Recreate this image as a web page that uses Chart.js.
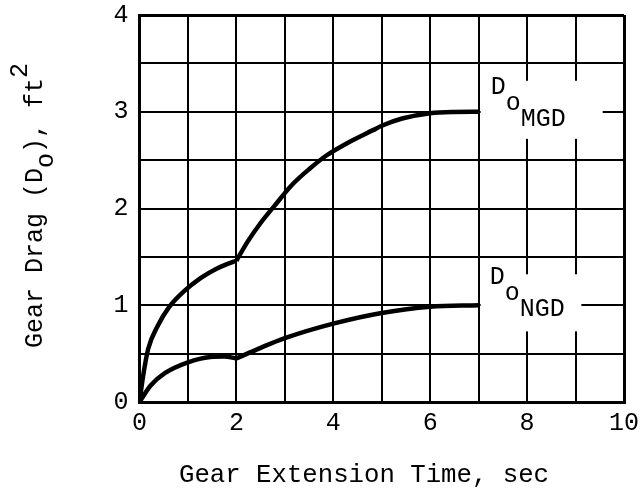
<!DOCTYPE html>
<html>
<head>
<meta charset="utf-8">
<script src="https://cdn.jsdelivr.net/npm/chart.js@4/dist/chart.umd.min.js"></script>
<style>
  html, body { margin: 0; padding: 0; background: #ffffff; }
  #wrap { width: 642px; height: 504px; }
</style>
</head>
<body>
<div id="wrap"><canvas id="c" width="642" height="504"></canvas></div>
<script>
// Gear extension time (s) and drag area (ft^2) for the main and nose gear
const mgdTime = [0, 0.075, 0.18, 0.38, 0.61, 0.91, 1.26, 1.60, 1.94, 2, 2.235, 2.5, 2.79, 3.16, 3.51, 3.85, 4.34, 4.82, 5.0, 5.42, 6.0, 6.5, 7];
const mgdDrag = [0, 0.27, 0.55, 0.79, 0.98, 1.14, 1.28, 1.38, 1.45, 1.46, 1.66, 1.85, 2.03, 2.25, 2.41, 2.545, 2.69, 2.81, 2.855, 2.93, 2.985, 2.998, 3.0];

const ngdTime = [0, 0.23, 0.53, 1.0, 1.46, 1.75, 2, 2.5, 3.0, 4.0, 5.0, 6.0, 7];
const ngdDrag = [0, 0.17, 0.30, 0.41, 0.465, 0.47, 0.45, 0.56, 0.66, 0.81, 0.92, 0.985, 1.0];

const xTicks = [0, 2, 4, 6, 8, 10];
const yTicks = [0, 1, 2, 3, 4];

// Both curves have a corner where the doors finish opening
const doorTime = 2;

const FONT = '"Liberation Mono", "DejaVu Sans Mono", monospace';

function splitAtCorner(times, values) {
  const before = [], after = [];
  times.forEach((t, i) => {
    const p = { x: t, y: values[i] };
    if (t <= doorTime) before.push(p);
    if (t >= doorTime) after.push(p);
  });
  return [before, after];
}

function curveDatasets(name, times, values) {
  return splitAtCorner(times, values).map((pts, k) => ({
    label: name + (k ? ' (after doors)' : ''),
    data: pts,
    borderColor: '#000',
    borderWidth: 4.5,
    pointRadius: 0,
    fill: false,
    cubicInterpolationMode: 'monotone',
    borderCapStyle: 'butt',
    borderJoinStyle: 'round'
  }));
}

// Curve names written at the right-hand end of each curve, on a white patch
const curveLabels = [
  { sub: 'MGD', box: [7, 9.56, 2.72, 3.32], at: [7.25, 3.18] },
  { sub: 'NGD', box: [7, 9.12, 0.73, 1.32], at: [7.23, 1.22] }
];

const labelPlugin = {
  id: 'curveLabels',
  beforeDatasetsDraw(chart) {
    const { ctx, scales: { x, y } } = chart;
    ctx.save();
    curveLabels.forEach(l => {
      const [x0, x1, y0, y1] = l.box;
      const left = x.getPixelForValue(x0) + 2;
      const right = x.getPixelForValue(x1);
      const top = y.getPixelForValue(y1);
      const bottom = y.getPixelForValue(y0);
      ctx.fillStyle = '#fff';
      ctx.fillRect(left, top, right - left, bottom - top);

      ctx.fillStyle = '#000';
      ctx.font = '25px ' + FONT;
      ctx.textAlign = 'left';
      ctx.textBaseline = 'alphabetic';
      const tx = x.getPixelForValue(l.at[0]);
      const ty = y.getPixelForValue(l.at[1]);
      const wD = ctx.measureText('D').width;
      const wo = ctx.measureText('o').width;
      ctx.fillText('D', tx, ty);
      ctx.fillText('o', tx + wD, ty + 16);
      ctx.fillText(l.sub, tx + wD + wo, ty + 32);
    });
    ctx.restore();
  },
  afterDraw(chart) {
    const { ctx } = chart;
    ctx.save();
    ctx.fillStyle = '#000';
    ctx.textBaseline = 'alphabetic';

    // x-axis title
    ctx.font = '25.7px ' + FONT;
    ctx.textAlign = 'center';
    ctx.fillText('Gear Extension Time, sec', 364, 482);

    // y-axis title, read bottom to top, with subscript and superscript
    ctx.font = '25px ' + FONT;
    ctx.translate(42, 348);
    ctx.rotate(-Math.PI / 2);
    ctx.textAlign = 'left';
    let cx = 0;
    const part = (s, dy) => { ctx.fillText(s, cx, dy); cx += ctx.measureText(s).width; };
    part('Gear Drag (D', 0);
    part('o', 11);
    part('), ft', 0);
    part('2', -15);
    ctx.restore();
  }
};

const edgeWidth = (c) => (c.index === 0 || c.index === c.scale.ticks.length - 1) ? 3 : 2;

new Chart(document.getElementById('c'), {
  type: 'line',
  data: {
    datasets: [
      ...curveDatasets('Do MGD', mgdTime, mgdDrag),
      ...curveDatasets('Do NGD', ngdTime, ngdDrag)
    ]
  },
  options: {
    responsive: false,
    animation: false,
    devicePixelRatio: 1,
    layout: { padding: { top: 15, right: 18, bottom: 0, left: 0 } },
    plugins: { legend: { display: false }, tooltip: { enabled: false } },
    scales: {
      x: {
        type: 'linear',
        min: 0, max: 10,
        afterFit(s) { s.height = 102; s.paddingLeft = 0; s.paddingRight = 0; },
        grid: { color: '#000', lineWidth: edgeWidth, drawTicks: false },
        border: { color: '#000', width: 3 },
        ticks: {
          stepSize: 1,
          autoSkip: false,
          maxRotation: 0,
          padding: 6,
          color: '#000',
          font: { family: FONT, size: 25 },
          callback: v => xTicks.includes(v) ? String(v) : ''
        }
      },
      y: {
        type: 'linear',
        min: 0, max: 4,
        afterFit(s) { s.width = 139.5; s.paddingTop = 0; s.paddingBottom = 0; },
        grid: { color: '#000', lineWidth: edgeWidth, drawTicks: false },
        border: { color: '#000', width: 3 },
        ticks: {
          stepSize: 0.5,
          autoSkip: false,
          padding: 11,
          color: '#000',
          font: { family: FONT, size: 25 },
          callback: v => yTicks.includes(v) ? String(v) : ''
        }
      }
    }
  },
  plugins: [labelPlugin]
});
</script>
</body>
</html>
